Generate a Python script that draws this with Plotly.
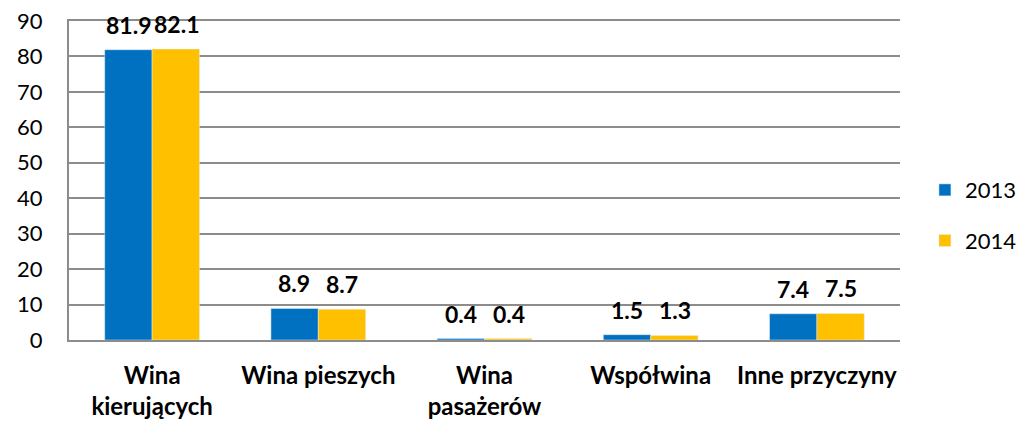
import plotly.graph_objects as go

categories = ['Wina<br>kierujących', 'Wina pieszych', 'Wina<br>pasażerów', 'Współwina', 'Inne przyczyny']
values_2013 = [81.9, 8.9, 0.4, 1.5, 7.4]
values_2014 = [82.1, 8.7, 0.4, 1.3, 7.5]
y_ticks = [0, 10, 20, 30, 40, 50, 60, 70, 80, 90]

font_name = 'Lato, Open Sans, sans-serif'

fig = go.Figure()
fig.add_trace(go.Bar(x=categories, y=values_2013, name='2013', marker_color='#0070C0',
                     legendgroup='a'))
fig.add_trace(go.Bar(x=categories, y=values_2014, name='2014', marker_color='#FFC000',
                     legendgroup='b'))

# data labels above bars
for vals, shift in [(values_2013, -24), (values_2014, 24)]:
    for cat, v in zip(categories, vals):
        fig.add_annotation(x=cat, y=v, text=f'<b>{v}</b>', showarrow=False,
                           xshift=shift, yshift=25, yanchor='middle',
                           font=dict(family=font_name, size=23, color='black'))

# page body has an 8px margin, so the figure is a bit smaller than the window
fig.update_layout(
    width=1026, height=414,
    margin=dict(l=61, r=131, t=13, b=82),
    plot_bgcolor='white', paper_bgcolor='white',
    barmode='group', bargap=0.43, bargroupgap=0,
    font=dict(family=font_name, size=22, color='black'),
    legend=dict(x=1.03, y=0.39, xanchor='left', yanchor='middle',
                traceorder='grouped', tracegroupgap=19,
                font=dict(size=22), itemwidth=30),
    showlegend=True,
)
# mirror draws the top line, where the 90 gridline sits
fig.update_xaxes(showline=True, linecolor='#8c8c8c', linewidth=1.5, mirror=True,
                 automargin=False,
                 tickfont=dict(family=font_name, size=24, weight='bold'),
                 ticklabelstandoff=13)
fig.update_yaxes(range=[0, 90], tickvals=y_ticks, showgrid=True, gridcolor='#8c8c8c',
                 gridwidth=1.5, showline=True, linecolor='#8c8c8c', linewidth=2,
                 zeroline=False, ticklabelstandoff=20, automargin=False,
                 ticklabeloverflow='allow',
                 tickfont=dict(family=font_name, size=22))

fig.write_html('out.html')
